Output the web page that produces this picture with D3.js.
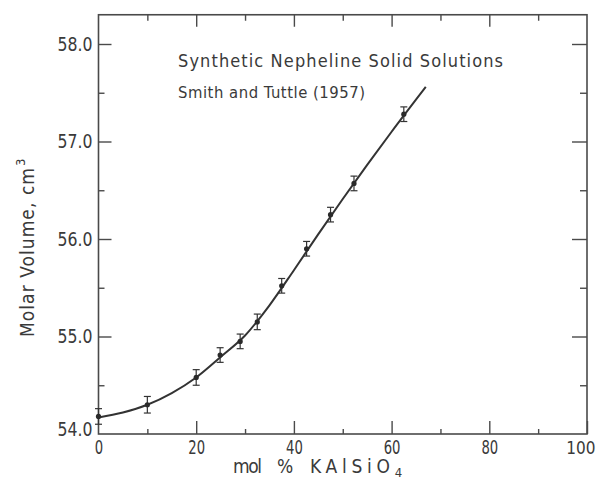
<!DOCTYPE html>
<html>
<head>
<meta charset="utf-8">
<script src="https://cdn.jsdelivr.net/npm/d3@7"></script>
<style>
  html, body { margin: 0; padding: 0; background: #fff; }
  svg { display: block; }
  text { font-family: "Liberation Sans Narrow", "DejaVu Sans Condensed", "Liberation Sans", sans-serif; fill: #3a3a3a; }
</style>
</head>
<body>
<svg id="chart" width="600" height="485"></svg>
<script>
// ---- data ----
const pointX = [0, 10, 20, 24.9, 29.0, 32.5, 37.5, 42.6, 47.5, 52.3, 62.5];
const pointY = [54.18, 54.30, 54.58, 54.81, 54.95, 55.15, 55.52, 55.90, 56.25, 56.57, 57.28];
const pointErr = [0.08, 0.085, 0.08, 0.075, 0.075, 0.08, 0.075, 0.075, 0.075, 0.075, 0.075];
const curveX = [0, 5, 10, 15, 20, 25, 30, 35, 40, 45, 50, 55, 60, 67];
const curveY = [54.17, 54.22, 54.30, 54.42, 54.58, 54.79, 55.01, 55.32, 55.68, 56.05, 56.41, 56.76, 57.10, 57.56];
const xMajorTicks = [0, 20, 40, 60, 80, 100];
const xMinorTicks = [10, 30, 50, 70, 90];
const yMajorTicks = [54.0, 55.0, 56.0, 57.0, 58.0];
const yMinorTicks = [54.5, 55.5, 56.5, 57.5];
const titleLine1 = "Synthetic Nepheline Solid Solutions";
const titleLine2 = "Smith and Tuttle (1957)";
const xTitle = ["mol", "%", "KAlSiO", "4"];
const yTitle = ["Molar Volume, cm", "3"];

// ---- layout ----
const svg = d3.select("#chart");
const x = d3.scaleLinear().domain([0, 100]).range([98.5, 587]);
const y = d3.scaleLinear().domain([54, 58.3]).range([434, 434 - 4.3 * 97.5]);
const axisColor = "#4a4a4a";

// frame
svg.append("rect")
  .attr("x", x(0)).attr("y", y(58.3))
  .attr("width", x(100) - x(0)).attr("height", y(54) - y(58.3))
  .attr("fill", "none").attr("stroke", axisColor).attr("stroke-width", 1.6);

function styleAxis(g) {
  g.select(".domain").remove();
  g.selectAll(".tick line").attr("stroke", axisColor).attr("stroke-width", 1.4);
}

// bottom axis (major with labels)
const gB = svg.append("g").attr("transform", `translate(0,${y(54)})`)
  .call(d3.axisBottom(x).tickValues(xMajorTicks).tickSize(-13).tickSizeOuter(0)
        .tickFormat(d3.format("d")).tickPadding(7));
styleAxis(gB);
gB.selectAll(".tick text").attr("font-size", 19).attr("fill", "#3a3a3a")
  .filter(d => d !== 100)
  .attr("textLength", d => String(d).length * 8.4).attr("lengthAdjust", "spacingAndGlyphs");
gB.selectAll(".tick").filter(d => d === 100).select("text")
  .attr("font-size", 17).attr("text-anchor", "end").attr("dx", 8).attr("dy", "0.78em");
gB.selectAll(".tick").filter(d => d === 0).select("line").remove();
svg.append("g").attr("transform", `translate(0,${y(54)})`)
  .call(d3.axisBottom(x).tickValues(xMinorTicks).tickSize(-5).tickFormat(""))
  .call(styleAxis);

// top axis
svg.append("g").attr("transform", `translate(0,${y(58.3)})`)
  .call(d3.axisTop(x).tickValues(xMajorTicks.filter(d => d > 0 && d < 100)).tickSize(-12).tickFormat(""))
  .call(styleAxis);
svg.append("g").attr("transform", `translate(0,${y(58.3)})`)
  .call(d3.axisTop(x).tickValues(xMinorTicks).tickSize(-6).tickFormat(""))
  .call(styleAxis);

// left axis
const gL = svg.append("g").attr("transform", `translate(${x(0)},0)`)
  .call(d3.axisLeft(y).tickValues(yMajorTicks).tickSize(-13).tickSizeOuter(0)
        .tickFormat(d3.format(".1f")).tickPadding(6));
styleAxis(gL);
gL.selectAll(".tick text").attr("font-size", 19).attr("fill", "#3a3a3a")
  .attr("textLength", 35).attr("lengthAdjust", "spacingAndGlyphs");
gL.selectAll(".tick").filter(d => d === 54).select("line").remove();
gL.selectAll(".tick").filter(d => d === 54).select("text").attr("dy", "0.1em");
svg.append("g").attr("transform", `translate(${x(0)},0)`)
  .call(d3.axisLeft(y).tickValues(yMinorTicks).tickSize(-6).tickFormat(""))
  .call(styleAxis);

// right axis
svg.append("g").attr("transform", `translate(${x(100)},0)`)
  .call(d3.axisRight(y).tickValues(yMajorTicks.filter(d => d > 54)).tickSize(-15).tickFormat(""))
  .call(styleAxis);
svg.append("g").attr("transform", `translate(${x(100)},0)`)
  .call(d3.axisRight(y).tickValues(yMinorTicks).tickSize(-7).tickFormat(""))
  .call(styleAxis);

// fitted curve
const line = d3.line().x((d, i) => x(curveX[i])).y((d, i) => y(curveY[i])).curve(d3.curveMonotoneX);
svg.append("path").datum(curveX).attr("d", line)
  .attr("fill", "none").attr("stroke", "#333").attr("stroke-width", 2);

// error bars + points
const pts = pointX.map((v, i) => ({ x: v, y: pointY[i], e: pointErr[i] }));
const eb = svg.append("g").attr("stroke", "#333").attr("stroke-width", 1.2);
pts.forEach(p => {
  eb.append("line").attr("x1", x(p.x)).attr("x2", x(p.x)).attr("y1", y(p.y - p.e)).attr("y2", y(p.y + p.e));
  eb.append("line").attr("x1", x(p.x) - 3.5).attr("x2", x(p.x) + 3.5).attr("y1", y(p.y - p.e)).attr("y2", y(p.y - p.e));
  eb.append("line").attr("x1", x(p.x) - 3.5).attr("x2", x(p.x) + 3.5).attr("y1", y(p.y + p.e)).attr("y2", y(p.y + p.e));
});
svg.append("g").selectAll("circle").data(pts).join("circle")
  .attr("cx", d => x(d.x)).attr("cy", d => y(d.y)).attr("r", 2.6).attr("fill", "#2a2a2a");

// titles inside plot
svg.append("text").attr("x", 178).attr("y", 67).attr("font-size", 18)
  .attr("textLength", 325).attr("lengthAdjust", "spacing").text(titleLine1);
svg.append("text").attr("x", 178).attr("y", 98).attr("font-size", 16.5)
  .attr("textLength", 187).attr("lengthAdjust", "spacing").text(titleLine2);

// x axis title
const xt = svg.append("text").attr("y", 473).attr("font-size", 19);
xt.append("tspan").attr("x", 233).attr("textLength", 29).attr("lengthAdjust", "spacing").text(xTitle[0]);
xt.append("tspan").attr("x", 277).text(xTitle[1]);
xt.append("tspan").attr("x", 310).attr("textLength", 80).attr("lengthAdjust", "spacing").text(xTitle[2]);
xt.append("tspan").attr("dy", 4).attr("font-size", 13).text(xTitle[3]);

// y axis title
const yt = svg.append("text").attr("transform", "translate(34,337) rotate(-90)").attr("font-size", 19);
yt.append("tspan").attr("x", 0).attr("textLength", 169).attr("lengthAdjust", "spacing").text(yTitle[0]);
yt.append("tspan").attr("dx", 1).attr("dy", -9).attr("font-size", 13).text(yTitle[1]);
</script>
</body>
</html>
